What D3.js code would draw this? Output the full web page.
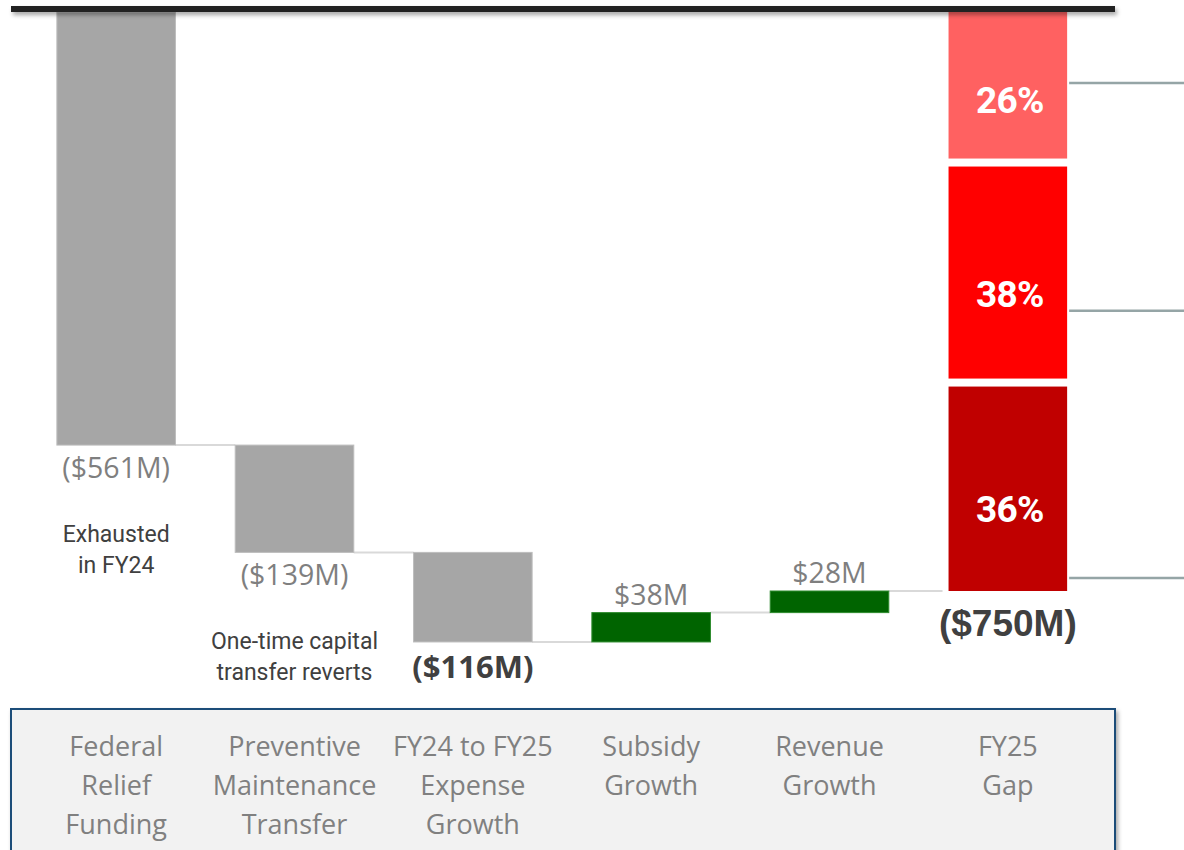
<!DOCTYPE html>
<html>
<head>
<meta charset="utf-8">
<script src="https://cdn.jsdelivr.net/npm/d3@7"></script>
<style>
  html, body { margin: 0; padding: 0; background: #fff; }
  svg { display: block; }
</style>
</head>
<body>
<div id="chart"></div>
<script>
// waterfall steps ($M), last one is the total gap
const categories = [
  ["Federal", "Relief", "Funding"],
  ["Preventive", "Maintenance", "Transfer"],
  ["FY24 to FY25", "Expense", "Growth"],
  ["Subsidy", "Growth"],
  ["Revenue", "Growth"],
  ["FY25", "Gap"]
];
const changes = [-561, -139, -116, 38, 28];
const valueLabels = ["($561M)", "($139M)", "($116M)", "$38M", "$28M", "($750M)"];
const boldLabel = [false, false, true, false, false, true];
const notes = [["Exhausted", "in FY24"], ["One-time capital", "transfer reverts"], null, null, null, null];
const gapShares = [26, 38, 36];
const gapColors = ["#ff6161", "#ff0000", "#c00000"];
const leaderAt = [92, 387, 733]; // $M below the top line where the side leaders sit

const width = 1184, height = 850;

const svg = d3.select("#chart").append("svg")
  .attr("width", width)
  .attr("height", height);

const defs = svg.append("defs");
const shadow = defs.append("filter").attr("id", "shadow")
  .attr("x", "-5%").attr("y", "-50%").attr("width", "110%").attr("height", "300%");
shadow.append("feDropShadow")
  .attr("dx", 2).attr("dy", 3).attr("stdDeviation", 2)
  .attr("flood-color", "#000").attr("flood-opacity", 0.35);

// build running totals
let run = 0;
const steps = changes.map(function(v, i) {
  const s = { i: i, start: run, end: run + v, value: v };
  run += v;
  return s;
});
const total = run;
steps.push({ i: changes.length, start: 0, end: total, value: total, total: true });

const x = d3.scaleBand()
  .domain(d3.range(categories.length))
  .range([27, 1097])
  .paddingInner(0.335)
  .paddingOuter(0.1675);

const y = d3.scaleLinear()
  .domain([0, total])
  .range([12, 591]);

// category box
svg.append("rect")
  .attr("x", 11).attr("y", 709)
  .attr("width", 1104).attr("height", 160)
  .attr("fill", "#f2f2f2")
  .attr("stroke", "#1f4e79")
  .attr("stroke-width", 2)
  .attr("filter", "url(#shadow)");

const catText = svg.append("g").selectAll("text")
  .data(categories)
  .enter().append("text")
  .attr("text-anchor", "middle")
  .attr("font-family", "'Open Sans', sans-serif")
  .attr("font-size", 27)
  .attr("fill", "#808080")
  .attr("transform", function(d, i) { return "translate(" + (x(i) + x.bandwidth() / 2) + ",756)"; });

catText.selectAll("tspan")
  .data(function(d) { return d; })
  .enter().append("tspan")
  .attr("x", 0)
  .attr("y", function(d, j) { return j * 39; })
  .text(function(d) { return d; });

// connectors
const conn = svg.append("g");
steps.slice(0, -1).forEach(function(s) {
  conn.append("line")
    .attr("x1", x(s.i) + x.bandwidth())
    .attr("x2", x(s.i + 1) - (s.i + 1 === steps.length - 1 ? 6 : 0))
    .attr("y1", y(s.end)).attr("y2", y(s.end))
    .attr("stroke", "#d9d9d9")
    .attr("stroke-width", 2);
});

// step bars
svg.append("g").selectAll("rect")
  .data(steps.slice(0, -1))
  .enter().append("rect")
  .attr("x", function(d) { return x(d.i); })
  .attr("width", x.bandwidth())
  .attr("y", function(d) { return y(Math.max(d.start, d.end)); })
  .attr("height", function(d) { return Math.abs(y(d.end) - y(d.start)); })
  .attr("fill", function(d) { return d.value < 0 ? "#a6a6a6" : "#006400"; })
  .attr("stroke", function(d) { return d.value < 0 ? "#bdbdbd" : "#2e8b2e"; })
  .attr("stroke-width", 1);

// stacked gap bar
const gapStep = steps[steps.length - 1];
let acc = 0;
const segs = gapShares.map(function(p, k) {
  const s = { k: k, from: total * acc / 100, to: total * (acc + p) / 100, p: p };
  acc += p;
  return s;
});
const gapPad = 4;
const segTop = function(d) { return y(d.from) + (d.k > 0 ? gapPad : 0); };
const segH = function(d) {
  return y(d.to) - y(d.from) - (d.k > 0 ? gapPad : 0) - (d.k < segs.length - 1 ? gapPad : 0);
};
const gapG = svg.append("g");
gapG.selectAll("rect")
  .data(segs)
  .enter().append("rect")
  .attr("x", x(gapStep.i))
  .attr("width", x.bandwidth())
  .attr("y", segTop)
  .attr("height", segH)
  .attr("fill", function(d) { return gapColors[d.k]; });

gapG.selectAll("text")
  .data(segs)
  .enter().append("text")
  .attr("x", x(gapStep.i) + x.bandwidth() / 2 + 2)
  .attr("y", function(d) { return segTop(d) + segH(d) * 0.6; })
  .attr("dy", "0.35em")
  .attr("text-anchor", "middle")
  .attr("font-family", "'Roboto', sans-serif")
  .attr("font-weight", "bold")
  .attr("font-size", 37)
  .attr("letter-spacing", -0.8)
  .attr("fill", "#fff")
  .text(function(d) { return d.p + "%"; });

// side leaders
svg.append("g").selectAll("line")
  .data(leaderAt)
  .enter().append("line")
  .attr("x1", x(gapStep.i) + x.bandwidth() + 2)
  .attr("x2", width)
  .attr("y1", function(d) { return y(-d); })
  .attr("y2", function(d) { return y(-d); })
  .attr("stroke", "#95a5a6")
  .attr("stroke-width", 2.5);

// top line
svg.append("rect")
  .attr("x", 11).attr("y", y(0) - 6)
  .attr("width", 1104).attr("height", 6)
  .attr("fill", "#222")
  .attr("filter", "url(#shadow)");

// value labels
svg.append("g").selectAll("text")
  .data(steps)
  .enter().append("text")
  .attr("x", function(d) { return x(d.i) + x.bandwidth() / 2; })
  .attr("y", function(d) {
    if (d.total) return y(d.end) + 32;
    if (d.value < 0) return y(d.end) + (boldLabel[d.i] ? 25 : 23);
    return y(d.end) - 18;
  })
  .attr("dy", "0.35em")
  .attr("text-anchor", "middle")
  .attr("font-family", function(d) { return d.total ? "'Liberation Sans', Arial, sans-serif" : "'Open Sans', sans-serif"; })
  .attr("font-weight", function(d) { return boldLabel[d.i] ? "bold" : "normal"; })
  .attr("font-size", function(d) { return d.total ? 37 : (boldLabel[d.i] ? 31 : 28.5); })
  .attr("fill", function(d) { return boldLabel[d.i] ? "#404040" : "#7f7f7f"; })
  .text(function(d) { return valueLabels[d.i]; });

// notes under bars
steps.forEach(function(s) {
  const n = notes[s.i];
  if (!n) return;
  const t = svg.append("text")
    .attr("text-anchor", "middle")
    .attr("font-family", "'Roboto', sans-serif")
    .attr("font-size", 23)
    .attr("fill", "#404040")
    .attr("transform", "translate(" + (x(s.i) + x.bandwidth() / 2) + "," + (y(s.end) + 89) + ")");
  t.selectAll("tspan")
    .data(n)
    .enter().append("tspan")
    .attr("x", 0)
    .attr("y", function(d, j) { return j * 31; })
    .attr("dy", "0.35em")
    .text(function(d) { return d; });
});
</script>
</body>
</html>
